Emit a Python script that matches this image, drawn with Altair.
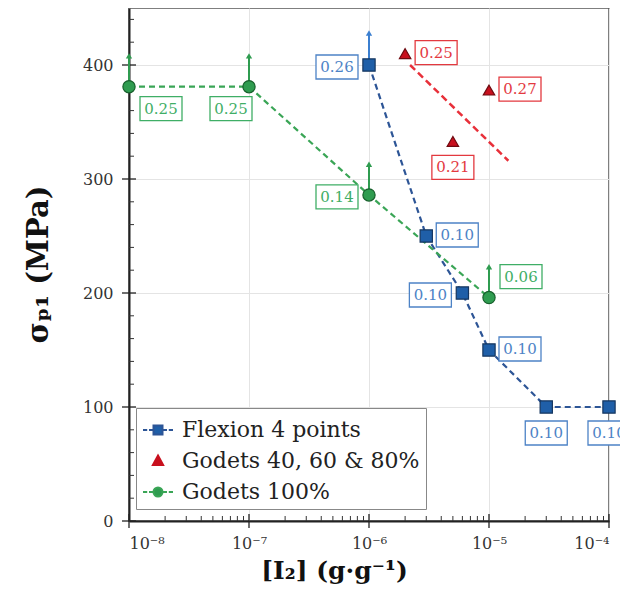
import altair as alt
import pandas as pd

# ---------------- data ----------------
flex_x = [1e-6, 3e-6, 6e-6, 1e-5, 3e-5, 1e-4]
flex_y = [400, 250, 200, 150, 100, 100]
flex_lbl = ["0.26", "0.10", "0.10", "0.10", "0.10", "0.10"]
flex_pos = ["left", "right", "left", "right", "below", "below"]

god_x = [2e-6, 5e-6, 1e-5]
god_y = [410, 333, 378]
god_lbl = ["0.25", "0.21", "0.27"]
god_pos = ["right", "below", "right"]
trend_x = [2.2e-6, 1.45e-5]
trend_y = [400, 316]

g100_x = [1e-8, 1e-7, 1e-6, 1e-5]
g100_y = [381, 381, 286, 196]
g100_lbl = ["0.25", "0.25", "0.14", "0.06"]
g100_pos = ["below_right", "below_left", "left", "above_right"]

# lower-bound arrows (point value -> arrow tip)
flex_arrow_x = [1e-6]
flex_arrow_y0 = [400]
flex_arrow_y1 = [428]
g100_arrow_y1 = [408, 408, 313, 223]

series = ["Flexion 4 points", "Godets 40, 60 & 80%", "Godets 100%"]

x_ticks = [1e-8, 1e-7, 1e-6, 1e-5, 1e-4]
x_minor = [m * 10.0 ** e for e in range(-8, -4) for m in range(2, 10)]
y_ticks = [0, 100, 200, 300, 400]
y_minor = [20, 40, 60, 80, 120, 140, 160, 180, 220, 240, 260, 280,
           320, 340, 360, 380, 420, 440]

# ---------------- style ----------------
W, H = 480, 513
FONT = "DejaVu Serif"
BLUE, BLUE_EDGE, BLUE_LINE, BLUE_LBL = "#1f5fa8", "#15365f", "#2d5596", "#4d83c6"
RED, RED_EDGE, RED_LINE, RED_LBL = "#c8101e", "#6e0a10", "#e8303a", "#e3393f"
GREEN, GREEN_EDGE, GREEN_LINE, GREEN_LBL = "#2f9c50", "#17602c", "#3aa556", "#3fae66"

xscale = alt.Scale(type="log", domain=[1e-8, 1e-4])
yscale = alt.Scale(domain=[0, 450], nice=False, zero=False)

xlabel_expr = ("'10' + (datum.value < 5e-8 ? '⁻⁸' : datum.value < 5e-7 ? '⁻⁷' : "
               "datum.value < 5e-6 ? '⁻⁶' : datum.value < 5e-5 ? '⁻⁵' : '⁻⁴')")

xaxis = alt.Axis(values=x_ticks, labelExpr=xlabel_expr, title="[I₂] (g·g⁻¹)",
                 grid=True, ticks=False, tickSize=0, labelPadding=14,
                 labelFontSize=16, titleFontSize=25, titleX=205, titleY=49,
                 titleBaseline="middle", titleAnchor="middle")
yaxis = alt.Axis(values=y_ticks, title="σₚ₁ (MPa)", grid=True, ticks=False,
                 tickSize=0, labelPadding=16, labelFontSize=16, titleFontSize=29,
                 titleX=-91, titleY=256, titleAngle=270, titleBaseline="middle",
                 titleAnchor="middle")


def X(f):
    return alt.X(f, type="quantitative", scale=xscale, axis=xaxis)


def Y(f):
    return alt.Y(f, type="quantitative", scale=yscale, axis=yaxis)


flex_df = pd.DataFrame({"x": flex_x, "y": flex_y, "lbl": flex_lbl, "pos": flex_pos})
god_df = pd.DataFrame({"x": god_x, "y": god_y, "lbl": god_lbl, "pos": god_pos})
g100_df = pd.DataFrame({"x": g100_x, "y": g100_y, "lbl": g100_lbl, "pos": g100_pos})
trend_df = pd.DataFrame({"x": trend_x, "y": trend_y})
flex_arr = pd.DataFrame({"x": flex_arrow_x, "y0": flex_arrow_y0, "y1": flex_arrow_y1})
g100_arr = pd.DataFrame({"x": g100_x, "y0": g100_y, "y1": g100_arrow_y1})

layers = []

# tick marks (crossing/inward)
layers.append(alt.Chart(pd.DataFrame({"v": y_ticks})).mark_rule(color="#222", strokeWidth=1.3)
              .encode(y=Y("v"), x=alt.value(-7), x2=alt.value(7)))
layers.append(alt.Chart(pd.DataFrame({"v": y_minor})).mark_rule(color="#333", strokeWidth=1)
              .encode(y=Y("v"), x=alt.value(0), x2=alt.value(5)))
layers.append(alt.Chart(pd.DataFrame({"v": x_ticks})).mark_rule(color="#222", strokeWidth=1.3)
              .encode(x=X("v"), y=alt.value(H - 7), y2=alt.value(H + 7)))
layers.append(alt.Chart(pd.DataFrame({"v": x_minor})).mark_rule(color="#333", strokeWidth=1)
              .encode(x=X("v"), y=alt.value(H), y2=alt.value(H - 5)))

# dashed lines
layers.append(alt.Chart(flex_df).mark_line(color=BLUE_LINE, strokeWidth=2.2, strokeDash=[6, 4])
              .encode(x=X("x"), y=Y("y")))
layers.append(alt.Chart(g100_df).mark_line(color=GREEN_LINE, strokeWidth=2.2, strokeDash=[6, 4])
              .encode(x=X("x"), y=Y("y")))
layers.append(alt.Chart(trend_df).mark_line(color=RED_LINE, strokeWidth=2.5, strokeDash=[7, 4])
              .encode(x=X("x"), y=Y("y")))

# label boxes
offsets = {
    "left": (-32, 2),
    "right": (31, -1),
    "below": (0, 26),
    "below_right": (32, 22),
    "below_left": (-18, 22),
    "above_right": (32, -21),
}
BW, BH = 42, 24
for df, col in [(flex_df, BLUE_LBL), (god_df, RED_LBL), (g100_df, GREEN_LBL)]:
    for p, (dx, dy) in offsets.items():
        sub = df[df["pos"] == p]
        if len(sub) == 0:
            continue
        layers.append(alt.Chart(sub).mark_rect(
            fill="white", stroke=col, strokeWidth=1.3,
            xOffset=dx - BW / 2, x2Offset=dx + BW / 2,
            yOffset=dy - BH / 2, y2Offset=dy + BH / 2)
            .encode(x=X("x"), x2="x", y=Y("y"), y2="y"))
        layers.append(alt.Chart(sub).mark_text(
            font=FONT, fontSize=15, color=col, dx=dx, dy=dy,
            align="center", baseline="middle")
            .encode(x=X("x"), y=Y("y"), text="lbl:N"))

# arrows
for adf, col in [(flex_arr, "#3b7fd0"), (g100_arr, GREEN)]:
    layers.append(alt.Chart(adf).mark_rule(color=col, strokeWidth=2)
                  .encode(x=X("x"), y=Y("y0"), y2="y1"))
    layers.append(alt.Chart(adf).mark_point(shape="triangle-up", filled=True, color=col,
                                            size=40, opacity=1)
                  .encode(x=X("x"), y=Y("y1")))

# markers
layers.append(alt.Chart(flex_df).mark_point(shape="square", filled=True, fill=BLUE,
                                            stroke=BLUE_EDGE, strokeWidth=1.2, size=150, opacity=1)
              .encode(x=X("x"), y=Y("y")))
layers.append(alt.Chart(god_df).mark_point(shape="triangle-up", filled=True, fill=RED,
                                           stroke=RED_EDGE, strokeWidth=1.2, size=130, opacity=1)
              .encode(x=X("x"), y=Y("y")))
layers.append(alt.Chart(g100_df).mark_point(shape="circle", filled=True, fill=GREEN,
                                            stroke=GREEN_EDGE, strokeWidth=1.2, size=150, opacity=1)
              .encode(x=X("x"), y=Y("y")))

# legend layer (invisible marks, legend only)
path_flex = ("M-1,0H-0.72M-0.6,0H-0.3M0.3,0H0.6M0.72,0H1"
             "M-0.3,-0.3H0.3V0.3H-0.3Z")
path_god = "M0,-0.36L0.34,0.26L-0.34,0.26Z"
path_g100 = ("M-1,0H-0.72M-0.6,0H-0.3M0.3,0H0.6M0.72,0H1"
             "M0.3,0A0.3,0.3 0 1,1 -0.3,0A0.3,0.3 0 1,1 0.3,0Z")
leg_df = pd.DataFrame({"series": series, "x": [flex_x[0], god_x[0], g100_x[0]],
                       "y": [flex_y[0], god_y[0], g100_y[0]]})
leg = alt.Legend(title=None, orient="none", legendX=7, legendY=400,
                 labelFont=FONT, labelFontSize=22, labelColor="#222",
                 symbolSize=900, symbolStrokeWidth=2, symbolOpacity=1,
                 strokeColor="#888", fillColor="white", padding=6,
                 rowPadding=4, labelOffset=8, cornerRadius=0, labelLimit=400)
layers.append(alt.Chart(leg_df).mark_point(filled=True, opacity=0, size=1)
              .encode(x=X("x"), y=Y("y"),
                      fill=alt.Fill("series:N", scale=alt.Scale(domain=series, range=[BLUE, RED, GREEN]), legend=leg),
                      stroke=alt.Stroke("series:N", scale=alt.Scale(domain=series, range=[BLUE_LINE, RED, GREEN_LINE]), legend=leg),
                      shape=alt.Shape("series:N", scale=alt.Scale(domain=series, range=[path_flex, path_god, path_g100]), legend=leg)))

chart = alt.layer(*layers).properties(
    width=W, height=H,
    autosize=alt.AutoSizeParams(type="none"),
    padding={"left": 121, "top": 0, "right": 11, "bottom": 80},
).configure_view(stroke="#555", strokeWidth=1.5).configure_axis(
    labelFont=FONT, titleFont=FONT, labelColor="#333", titleColor="#111",
    titleFontWeight="bold", gridColor="#e4e4e4", gridWidth=1,
    domainColor="#222", domainWidth=2,
)

chart.save("out.html", embed_options={"renderer": "svg", "actions": False})
